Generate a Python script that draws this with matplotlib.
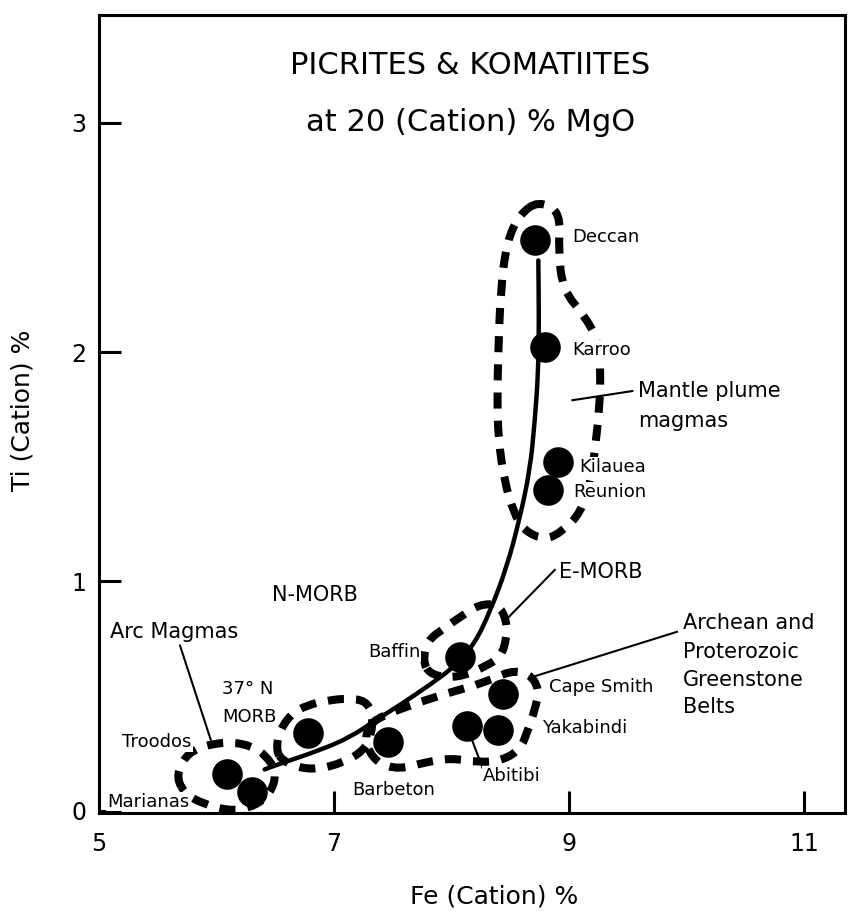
import numpy as np
import matplotlib
matplotlib.use("Agg")
import matplotlib.pyplot as plt
from matplotlib.path import Path
from matplotlib.patches import PathPatch

plt.rcParams["font.family"] = ["DejaVu Sans"]

# sample points (Fe cation %, Ti cation %)
names = ["Deccan", "Karroo", "Kilauea", "Reunion", "Baffin", "Cape Smith",
         "Yakabindi", "Abitibi", "Barbeton", "37N MORB", "Troodos", "Marianas"]
fe = [8.71, 8.80, 8.91, 8.82, 8.07, 8.44, 8.40, 8.13, 7.46, 6.78, 6.09, 6.30]
ti = [2.49, 2.02, 1.52, 1.40, 0.67, 0.51, 0.35, 0.37, 0.30, 0.34, 0.16, 0.08]

# trend curve through the suites
trend_fe = [6.41, 6.57, 6.86, 7.14, 7.37, 7.56, 7.82, 8.03, 8.20, 8.33,
            8.47, 8.58, 8.67, 8.71, 8.74, 8.745, 8.74]
trend_ti = [0.18, 0.21, 0.26, 0.32, 0.40, 0.46, 0.55, 0.63, 0.73, 0.87,
            1.06, 1.27, 1.49, 1.70, 1.92, 2.14, 2.40]

# dashed field outlines
plume_fe = [8.74, 8.93, 8.91, 8.95, 9.13, 9.25, 9.27, 9.26, 9.22, 9.19, 9.10,
            8.95, 8.80, 8.62, 8.53, 8.45, 8.40, 8.39, 8.40, 8.42, 8.47, 8.58]
plume_ti = [2.66, 2.61, 2.44, 2.27, 2.16, 2.05, 1.92, 1.75, 1.57, 1.44, 1.30,
            1.22, 1.18, 1.22, 1.30, 1.44, 1.62, 1.79, 2.02, 2.27, 2.48, 2.60]

emorb_fe = [7.76, 7.79, 7.95, 8.09, 8.24, 8.40, 8.47, 8.47, 8.42, 8.29, 8.12, 7.95, 7.81]
emorb_ti = [0.65, 0.74, 0.80, 0.85, 0.90, 0.90, 0.83, 0.75, 0.67, 0.63, 0.59, 0.58, 0.60]

arc_fe = [5.66, 5.71, 5.82, 5.96, 6.13, 6.31, 6.42, 6.50, 6.49, 6.41, 6.27, 6.10, 5.89, 5.74]
arc_ti = [0.14, 0.22, 0.27, 0.29, 0.30, 0.28, 0.24, 0.18, 0.11, 0.05, 0.01, 0.00, 0.03, 0.07]

morb37_fe = [6.51, 6.53, 6.63, 6.77, 6.94, 7.11, 7.27, 7.33, 7.32, 7.25, 7.08, 6.86, 6.68, 6.56]
morb37_ti = [0.26, 0.34, 0.42, 0.46, 0.48, 0.49, 0.48, 0.42, 0.33, 0.26, 0.21, 0.18, 0.19, 0.22]

green_fe = [7.35, 7.65, 7.95, 8.29, 8.50, 8.66, 8.75, 8.71, 8.65, 8.59,
            8.44, 8.24, 7.99, 7.77, 7.55, 7.36, 7.27, 7.28]
green_ti = [0.40, 0.46, 0.51, 0.56, 0.61, 0.60, 0.53, 0.44, 0.35, 0.27,
            0.22, 0.21, 0.23, 0.21, 0.18, 0.21, 0.29, 0.35]

# point labels: text, x, y, size class
labels = [
    ("Deccan", 9.03, 2.50, "s"), ("Karroo", 9.03, 2.01, "s"),
    ("Kilauea", 9.09, 1.50, "s"), ("Reunion", 9.04, 1.39, "s"),
    ("Mantle plume", 9.59, 1.83, "b"), ("magmas", 9.59, 1.70, "b"),
    ("E-MORB", 8.92, 1.04, "b"),
    ("Archean and", 9.97, 0.82, "b"), ("Proterozoic", 9.97, 0.69, "b"),
    ("Greenstone", 9.97, 0.57, "b"), ("Belts", 9.97, 0.45, "b"),
    ("Cape Smith", 8.83, 0.54, "s"), ("Yakabindi", 8.77, 0.36, "s"),
    ("Abitibi", 8.27, 0.15, "s"), ("Barbeton", 7.16, 0.09, "s"),
    ("Baffin", 7.29, 0.69, "s"), ("37° N", 6.05, 0.53, "s"),
    ("MORB", 6.05, 0.41, "s"), ("Troodos", 5.20, 0.30, "s"),
    ("Marianas", 5.07, 0.04, "s"), ("Arc Magmas", 5.09, 0.78, "b"),
    ("N-MORB", 6.47, 0.94, "b"),
]

# leader lines ((x0, x1), (y0, y1))
leaders = [
    ((5.69, 5.97), (0.72, 0.28)),
    ((9.03, 9.54), (1.79, 1.83)),
    ((8.88, 8.46), (1.05, 0.83)),
    ((9.92, 8.67), (0.78, 0.58)),
    ((8.13, 8.27), (0.37, 0.18)),
]


def smooth_path(xs, ys, closed=True):
    """Quadratic spline path through the given vertices."""
    pts = np.column_stack([xs, ys])
    if closed:
        mids = (pts + np.roll(pts, -1, axis=0)) / 2
        verts = [mids[-1]]
        codes = [Path.MOVETO]
        for p, m in zip(pts, mids):
            verts += [p, m]
            codes += [Path.CURVE3, Path.CURVE3]
        return Path(verts, codes)
    mids = (pts[:-1] + pts[1:]) / 2
    verts = [pts[0], mids[0]]
    codes = [Path.MOVETO, Path.LINETO]
    for p, m in zip(pts[1:-1], mids[1:]):
        verts += [p, m]
        codes += [Path.CURVE3, Path.CURVE3]
    verts.append(pts[-1])
    codes.append(Path.LINETO)
    return Path(verts, codes)


fig = plt.figure(figsize=(8.51, 9.15), dpi=100)
ax = fig.add_axes([0.1163, 0.1115, 0.8766, 0.8721])

for xs, ys in [(plume_fe, plume_ti), (emorb_fe, emorb_ti), (arc_fe, arc_ti),
               (morb37_fe, morb37_ti), (green_fe, green_ti)]:
    ax.add_patch(PathPatch(smooth_path(xs, ys), fill=False, lw=5.8,
                           ls=(0, (2.0, 1.5)), ec="black", capstyle="butt", zorder=2))

ax.add_patch(PathPatch(smooth_path(trend_fe, trend_ti, closed=False), fill=False,
                       lw=3.2, ec="black", capstyle="round", zorder=3))
for lx, ly in leaders:
    ax.plot(lx, ly, color="black", lw=1.5, zorder=3)
ax.plot(fe, ti, "o", color="black", ms=21, zorder=4)

for txt, x, y, kind in labels:
    ax.text(x, y, txt, fontsize=13 if kind == "s" else 15, ha="left", va="center", zorder=5,
            bbox=dict(boxstyle="square,pad=0.05", fc="white", ec="none"))

ax.text(8.16, 3.25, "PICRITES & KOMATIITES", fontsize=22, ha="center", va="center")
ax.text(8.16, 3.00, "at 20 (Cation) % MgO", fontsize=22, ha="center", va="center")

ax.set_xlim(5, 11.35)
ax.set_ylim(-0.01, 3.47)
ax.set_xticks([5, 7, 9, 11])
ax.set_yticks([0, 1, 2, 3])
ax.tick_params(axis="both", direction="in", length=16, width=2.2, labelsize=17)
ax.tick_params(axis="x", pad=14)
ax.tick_params(axis="y", pad=9)
for sp in ax.spines.values():
    sp.set_linewidth(2.2)
    sp.set_zorder(6)

ax.set_xlabel("Fe (Cation) %", fontsize=18)
ax.set_ylabel("Ti (Cation) %", fontsize=18)
ax.xaxis.set_label_coords(0.53, -0.09)
ax.yaxis.set_label_coords(-0.086, 0.505)

fig.savefig("out.png", dpi=100)
